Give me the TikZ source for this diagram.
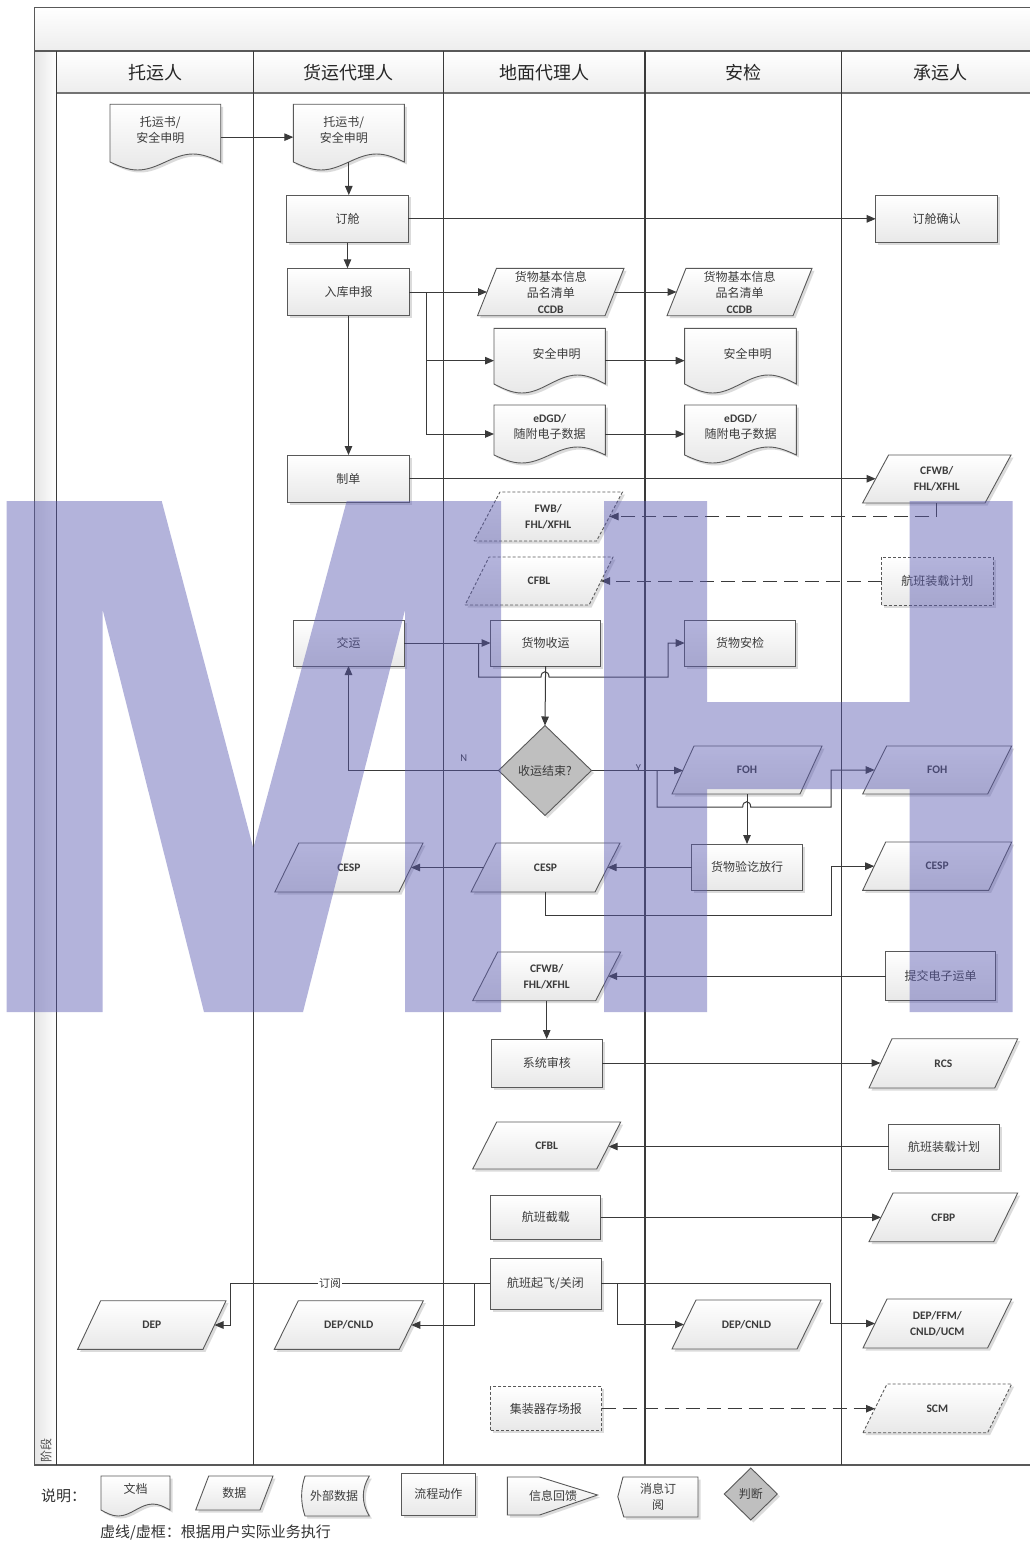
\documentclass[tikz,border=0pt]{standalone}
\usepackage{fontspec}
\setmainfont{Carlito}
\newfontfamily\zhf{Noto Sans CJK SC}
\newfontfamily\latf{Carlito}
\usetikzlibrary{arrows.meta}
\definecolor{linec}{HTML}{3A3A3A}
\definecolor{boxline}{HTML}{595959}
\definecolor{txt}{HTML}{3C3C3C}
\definecolor{wmc}{RGB}{88,88,177}
\newcommand\zhs{\zhf\fontsize{12}{16}\selectfont}
\newcommand\latn{\latf\bfseries\fontsize{11.5}{16}\selectfont}
\newcommand\hdr{\zhf\fontsize{18}{22}\selectfont}
\tikzset{
  lbl/.style={inner sep=0pt,outer sep=0pt,align=center,text=txt,font=\zhs},
  shp/.style={draw=boxline,line width=0.9pt,top color=white,bottom color=black!9},
  shd/.style={fill=black!25,opacity=0.55,draw=none},
  arr/.style={draw=linec,line width=1pt,-{Triangle[length=9pt,width=7.5pt]}},
  ln/.style={draw=linec,line width=1pt},
  dsh/.style={dash pattern=on 14pt off 7pt},
  dbox/.style={dash pattern=on 3pt off 2pt},
  lane/.style={draw=linec,line width=1.1pt},
  hdrtxt/.style={inner sep=0pt,text=black!85,font=\hdr},
}
% [style]{name}{x1}{y1}{x2}{y2}{text}
\newcommand\procbox[7][]{%
  \fill[shd] (#3+2.5,#4+2.5) rectangle (#5+2.5,#6+2.5);
  \path[shp,#1] (#3,#4) rectangle (#5,#6);
  \node[lbl,minimum width={#5-#3},minimum height={#6-#4}] (#2) at ({(#3+#5)/2},{(#4+#6)/2}) {#7};}
% [style]{name}{x bottom-left}{y top}{x top-right}{y bottom}{slant}{text}
\newcommand\para[8][]{%
  \fill[shd] (#3+2.5,#6+2.5) -- (#5-#7+2.5,#6+2.5) -- (#5+2.5,#4+2.5) -- (#3+#7+2.5,#4+2.5) -- cycle;
  \path[shp,#1] (#3,#6) -- (#5-#7,#6) -- (#5,#4) -- (#3+#7,#4) -- cycle;
  \node[lbl,minimum width={#5-#3-#7},minimum height={#6-#4}] (#2) at ({(#3+#5)/2},{(#4+#6)/2}) {#8};}
% [text shift]{name}{x1}{y1}{x2}{y baseline}{amplitude}{text}
\newcommand\docshape[8][]{%
  \pgfmathsetmacro\dqq{(#5-#3)/4}%
  \fill[shd] (#3+2.5,#4+2.5) -- (#3+2.5,#6+2.5) sin ++(\dqq,#7) cos ++(\dqq,-#7) sin ++(\dqq,-#7) cos ++(\dqq,#7) -- (#5+2.5,#4+2.5) -- cycle;
  \path[shp] (#3,#4) -- (#3,#6) sin ++(\dqq,#7) cos ++(\dqq,-#7) sin ++(\dqq,-#7) cos ++(\dqq,#7) -- (#5,#4) -- cycle;
  \node[inner sep=0pt,outer sep=0pt,minimum width={#5-#3},minimum height={#6+#7-#4}] (#2) at ({(#3+#5)/2},{(#4+#6+#7)/2}) {};
  \node[lbl,#1] (#2-t) at ({(#3+#5)/2},{(#4+#6+#7)/2-7}) {#8};}
% {name}{cx}{cy}{hw}{hh}{text}
\newcommand\decision[6]{%
  \fill[shd] (#2-#4+2.5,#3+2.5) -- (#2+2.5,#3-#5+2.5) -- (#2+#4+2.5,#3+2.5) -- (#2+2.5,#3+#5+2.5) -- cycle;
  \path[draw=boxline,line width=0.9pt,fill=black!25] (#2-#4,#3) -- (#2,#3-#5) -- (#2+#4,#3) -- (#2,#3+#5) -- cycle;
  \node[lbl,minimum width={2*#4},minimum height={2*#5}] (#1) at (#2,#3) {#6};}

\begin{document}
\begin{tikzpicture}[x=1pt,y=-1pt]
\useasboundingbox (0,0) rectangle (1030,1541);
\clip (0,0) rectangle (1030,1541);
\fill[white] (0,0) rectangle (1030,1541);

% ---------- frame ----------
\fill[top color=white,bottom color=black!7] (34.7,7.3) rectangle (1045,51);
\fill[top color=white,bottom color=black!7] (56.7,51) rectangle (1045,93.3);
\fill[left color=black!10,right color=white] (34.7,51) rectangle (56.7,1465);
\draw[lane,draw=black!65] (34.7,7.3) rectangle (1045,1465);
\draw[lane,draw=black!65] (34.7,51) -- (1045,51);
\draw[lane] (56.7,51) -- (56.7,1465);
\draw[line width=1.8pt,draw=black!55] (56.7,93.3) -- (1045,93.3);
\foreach \lx in {253.3,443.3,645,841.7} {\draw[lane] (\lx,51) -- (\lx,1465);}
\node[hdrtxt] (h1) at (155,72.5) {托运人};
\node[hdrtxt] (h2) at (348.3,72.5) {货运代理人};
\node[hdrtxt] (h3) at (544,72.5) {地面代理人};
\node[hdrtxt] (h4) at (743,72.5) {安检};
\node[hdrtxt] (h5) at (940,72.5) {承运人};
\node[lbl,rotate=90,text=black!70] (stage) at (46,1450) {阶段};

% ---------- shapes ----------
\docshape[xshift=-5pt]{tys1}{110}{104.3}{220.7}{162}{8}{托运书/\\安全申明}
\docshape[xshift=-5pt]{tys2}{293.3}{104.3}{404.3}{162}{8}{托运书/\\安全申明}
\procbox{dc}{286.7}{195}{408.3}{242.7}{订舱}
\procbox{dcqr}{875.7}{195}{997.7}{242.7}{订舱确认}
\procbox{rk}{287.7}{268.3}{409.3}{315.7}{入库申报}
\para{hw1}{477.5}{268.3}{624}{315.7}{19}{货物基本信息\\品名清单\\{\latn CCDB}}
\para{hw2}{667}{268.3}{812}{315.7}{19}{货物基本信息\\品名清单\\{\latn CCDB}}
\docshape[xshift=7pt]{aq1}{494}{328.3}{605.4}{384}{9}{安全申明}
\docshape[xshift=7pt]{aq2}{684.6}{328.3}{796.4}{384}{9}{安全申明}
\docshape{ed1}{494}{405}{605.4}{455}{8}{{\latn eDGD/}\\随附电子数据}
\docshape{ed2}{684.6}{405}{796.4}{455}{8}{{\latn eDGD/}\\随附电子数据}
\procbox{zd}{287.3}{455}{409.3}{502.5}{制单}
\para{cfwb1}{862.6}{455}{1011}{503}{26}{\latn CFWB/\\\latn FHL/XFHL}
\para[dbox]{fwb}{474}{492}{622.5}{541}{26}{\latn FWB/\\\latn FHL/XFHL}
\para[dbox]{cfbl1}{465}{557}{613}{605}{24}{\latn CFBL}
\procbox[dbox]{hzjh1}{881.5}{557}{993}{605}{航班装载计划}
\procbox{jy}{293}{620}{404}{666}{交运}
\procbox{shy}{490.5}{620}{600.7}{666}{货物收运}
\procbox{aj}{684.7}{620}{795.7}{666}{货物安检}
\decision{dia}{545}{770.5}{46.5}{45}{收运结束?}
\para{foh1}{672}{746}{822}{794}{22}{\latn FOH}
\para{foh2}{862.7}{746}{1011.7}{794}{24}{\latn FOH}
\procbox{yq}{691.7}{844}{802.3}{890.7}{货物验讫放行}
\para{cesp1}{274.8}{843}{423}{892}{24}{\latn CESP}
\para{cesp2}{471}{843}{620}{892}{25}{\latn CESP}
\para{cesp3}{862.7}{842}{1011.7}{890.3}{23}{\latn CESP}
\para{cfwb2}{472.7}{952}{620.7}{1000.7}{25}{\latn CFWB/\\\latn FHL/XFHL}
\procbox{tj}{885.6}{951.7}{995.5}{1000.7}{提交电子运单}
\procbox{xt}{491.6}{1039}{602}{1087}{系统审核}
\para{rcs}{869}{1038.7}{1017.7}{1088}{23}{\latn RCS}
\para{cfbl2}{472.7}{1122}{620.7}{1169}{24}{\latn CFBL}
\procbox{hzjh2}{888.6}{1124}{999.6}{1169}{航班装载计划}
\procbox{hjz}{490.8}{1195.7}{600.7}{1239}{航班截载}
\para{cfbp}{869}{1193}{1017.7}{1241.7}{24}{\latn CFBP}
\procbox{qf}{490}{1258}{601}{1309}{航班起飞/关闭}
\para{dep1}{77.7}{1300.7}{226}{1349.3}{23}{\latn DEP}
\para{depc1}{274.3}{1300.7}{423.3}{1349.3}{24}{\latn DEP/CNLD}
\para{depc2}{672}{1300}{821}{1349}{24}{\latn DEP/CNLD}
\para{dfc}{863}{1299}{1011.6}{1348}{24}{\latn DEP/FFM/\\\latn CNLD/UCM}
\procbox[dbox]{jzq}{490}{1386.7}{601.7}{1430.7}{集装器存场报}
\para[dbox]{scm}{863}{1384}{1011.6}{1432.7}{24}{\latn SCM}

% ---------- connectors ----------
\draw[arr] (tys1.east) -- (tys2.west);
\draw[arr] ([yshift=8pt]tys2.south) -- (tys2.south |- dc.north);
\draw[arr] (dc.east) -- (dcqr.west);
\draw[arr] (dc.south) -- (dc.south |- rk.north);
\draw[arr] (rk.east) -- (rk.east -| hw1.west);
\coordinate (rkb) at (426,292);
\draw[arr] (rkb) |- (aq1.west);
\draw[arr] (rkb) |- (ed1.west);
\draw[arr] (hw1.east) -- (hw1.east -| hw2.west);
\draw[arr] (aq1.east) -- (aq2.west);
\draw[arr] (ed1.east) -- (ed2.west);
\draw[arr] (rk.south) -- (rk.south |- zd.north);
\draw[arr] (zd.east) -- (zd.east -| cfwb1.west);
\draw[arr,dsh] (cfwb1.south) |- (fwb.east);
\draw[arr,dsh] (hzjh1.west) -- (hzjh1.west -| cfbl1.east);
\draw[arr] (jy.east) -- (shy.west);
\coordinate (jbr) at (478.6,643);
\draw[arr] (jbr) -- (478.6,677) -- (541,677) .. controls (541,670) and (549,670) .. (549,677) -- (668,677) |- (aj.west);
\draw[arr] (shy.south) -- (dia.north);
\draw[arr] (dia.west) -| (jy.south);
\node[inner sep=0pt,text=linec,font=\latf\fontsize{10.5}{12}\selectfont] (nlab) at (463.8,757.7) {N};
\draw[arr] (dia.east) -- (dia.east -| foh1.west);
\node[inner sep=0pt,text=linec,font=\latf\fontsize{10.5}{12}\selectfont] (ylab) at (638.5,768.5) {Y};
\coordinate (ybr) at (657,770.5);
\draw[arr] (ybr) -- (657,807) -- (742.7,807) .. controls (742.7,800) and (750.7,800) .. (750.7,807) -- (831,807) |- (foh2.west);
\draw[arr] (foh1.south) -- (foh1.south |- yq.north);
\draw[arr] (yq.west) -- (yq.west -| cesp2.east);
\draw[arr] (cesp2.west) -- (cesp1.east);
\draw[arr] (cesp2.south) |- (831.7,915.3) |- (cesp3.west);
\draw[arr] (tj.west) -- (tj.west -| cfwb2.east);
\draw[arr] (cfwb2.south) -- (cfwb2.south |- xt.north);
\draw[arr] (xt.east) -- (xt.east -| rcs.west);
\draw[arr] (hzjh2.west) -- (hzjh2.west -| cfbl2.east);
\draw[arr] (hjz.east) -- (hjz.east -| cfbp.west);
\draw[arr] (qf.west) -- (230.7,1283.5) |- (dep1.east);
\node[lbl,fill=white,inner sep=1pt,font=\zhf\fontsize{11}{13}\selectfont] (dy) at (330,1283.5) {订阅};
\coordinate (qfl) at (474,1283.5);
\draw[arr] (qfl) |- (depc1.east);
\coordinate (qfr) at (617.6,1283.5);
\draw[arr] (qfr) |- (depc2.west);
\draw[arr] (qf.east) -- (830,1283.5) |- (dfc.west);
\draw[arr,dsh] (jzq.east) -- (jzq.east -| scm.west);

% ---------- legend ----------
\node[lbl,text=black!80,font=\zhf\fontsize{15}{18}\selectfont,anchor=west] (lgs) at (41,1496) {说明：};
\docshape{lgdoc}{101}{1476}{170}{1510}{6}{文档}
\para{lgdata}{195.7}{1476}{273}{1510}{13}{数据}
\fill[shd] (307.5,1478.5) -- (371.8,1478.5) .. controls (363.8,1491.5) and (363.8,1505.5) .. (371.8,1518.5) -- (307.5,1518.5) .. controls (303,1505.5) and (303,1491.5) .. (307.5,1478.5) -- cycle;
\path[shp] (305,1476) -- (369.3,1476) .. controls (361.3,1489) and (361.3,1503) .. (369.3,1516) -- (305,1516) .. controls (300.5,1503) and (300.5,1489) .. (305,1476) -- cycle;
\node[lbl] (lgext) at (334,1496) {外部数据};
\procbox{lgproc}{401.7}{1473}{475}{1515.7}{流程动作}
\fill[shd] (509.9,1479.5) -- (542.1,1479.5) -- (600,1497.5) -- (542.1,1517.5) -- (509.9,1517.5) -- cycle;
\path[shp] (507.4,1477) -- (539.6,1477) -- (597.5,1495) -- (539.6,1515) -- (507.4,1515) -- cycle;
\node[lbl] (lgfb) at (553,1496) {信息回馈};
\fill[shd] (625.5,1479.5) -- (700.5,1479.5) -- (700.5,1519.5) -- (626.3,1519.5) -- (620.3,1499.2) -- cycle;
\path[shp] (623,1477) -- (698,1477) -- (698,1517) -- (623.8,1517) -- (617.8,1496.7) -- cycle;
\node[lbl] (lgsub) at (658,1496.5) {消息订\\阅};
\decision{lgdec}{750.8}{1494}{26.5}{26}{判断}
\node[lbl,text=black!80,font=\zhf\fontsize{15}{18}\selectfont,anchor=west] (lgnote) at (100,1532) {虚线/虚框：根据用户实际业务执行};

% ---------- watermark ----------
\fill[wmc,opacity=0.45] (6.7,501) -- (161.7,501) -- (253.3,848) -- (346.7,501) -- (501,501) -- (501,1012) -- (405,1012) -- (405,610) -- (303,1012) -- (204,1012) -- (102.7,610) -- (102.7,1012) -- (6.7,1012) -- cycle;
\fill[wmc,opacity=0.45] (604,501) -- (707,501) -- (707,702) -- (909.7,702) -- (909.7,501) -- (1012.7,501) -- (1012.7,1012) -- (909.7,1012) -- (909.7,789) -- (707,789) -- (707,1012) -- (604,1012) -- cycle;
\end{tikzpicture}
\end{document}
